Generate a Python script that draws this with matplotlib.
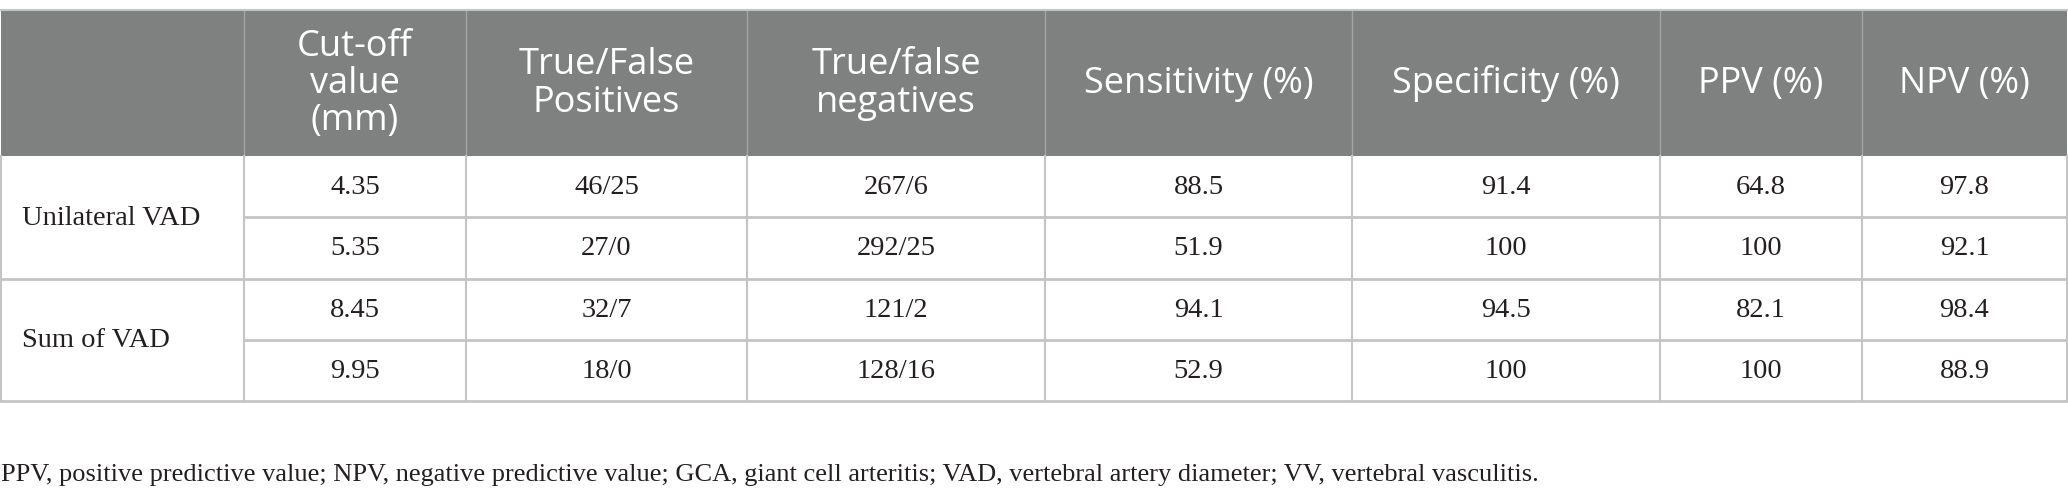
import matplotlib
matplotlib.use("Agg")
import matplotlib.pyplot as plt
from matplotlib.patches import Rectangle

# table content
headers = ["Cut-off\nvalue\n(mm)", "True/False\nPositives", "True/false\nnegatives",
           "Sensitivity (%)", "Specificity (%)", "PPV (%)", "NPV (%)"]
groups = ["Unilateral VAD", "Sum of VAD"]
cutoff = ["4.35", "5.35", "8.45", "9.95"]
true_false_pos = ["46/25", "27/0", "32/7", "18/0"]
true_false_neg = ["267/6", "292/25", "121/2", "128/16"]
sensitivity = ["88.5", "51.9", "94.1", "52.9"]
specificity = ["91.4", "100", "94.5", "100"]
ppv = ["64.8", "100", "82.1", "100"]
npv = ["97.8", "92.1", "98.4", "88.9"]
footnote = ("PPV, positive predictive value; NPV, negative predictive value; GCA, giant cell "
            "arteritis; VAD, vertebral artery diameter; VV, vertebral vasculitis.")

# layout in pixels
W, H = 2068, 504
col_x = [1, 244, 466, 747, 1045, 1352, 1660, 1862, 2067]
top, head_bot = 10, 156
row_h = 61.25
header_bg = "#7f8180"
line_c = "#c4c4c4"

fig = plt.figure(figsize=(W / 100, H / 100), dpi=100)
ax = fig.add_axes([0, 0, 1, 1])
ax.set_xlim(0, W)
ax.set_ylim(H, 0)
ax.axis("off")

ax.add_patch(Rectangle((col_x[0], top), col_x[-1] - col_x[0], head_bot - top,
                       facecolor=header_bg, edgecolor="none"))
for x in col_x[1:-1]:
    ax.plot([x, x], [top, head_bot], color="#a3a5a4", lw=1)

hfont = dict(family="Open Sans", fontsize=26, color="white")
for i, h in enumerate(headers):
    cx = (col_x[i + 1] + col_x[i + 2]) / 2
    ax.text(cx, (top + head_bot) / 2 + 1, h, ha="center", va="center",
            linespacing=1.05, **hfont)

bfont = dict(family="Liberation Serif", fontsize=20.5, color="#231f20")
cols = [cutoff, true_false_pos, true_false_neg, sensitivity, specificity, ppv, npv]
bottom = head_bot + 4 * row_h
for r in range(4):
    y0 = head_bot + r * row_h
    for c, vals in enumerate(cols):
        cx = (col_x[c + 1] + col_x[c + 2]) / 2
        ax.text(cx, y0 + row_h / 2 + 1, vals[r], ha="center", va="center", **bfont)
for g, name in enumerate(groups):
    ax.text(22, head_bot + (2 * g + 1) * row_h + 1, name, ha="left", va="center", **bfont)

# grid lines
ax.plot([col_x[0], col_x[-1]], [top, top], color=line_c, lw=1.5)
for r in range(1, 5):
    y = head_bot + r * row_h
    x_start = col_x[0] if r % 2 == 0 else col_x[1]
    ax.plot([x_start, col_x[-1]], [y, y], color=line_c, lw=2)
for x in col_x:
    ax.plot([x, x], [head_bot, bottom], color=line_c, lw=1.5)

ax.text(1, 475, footnote, ha="left", va="center",
        family="Liberation Serif", fontsize=19, color="#231f20")

fig.savefig("out.png", dpi=100)
